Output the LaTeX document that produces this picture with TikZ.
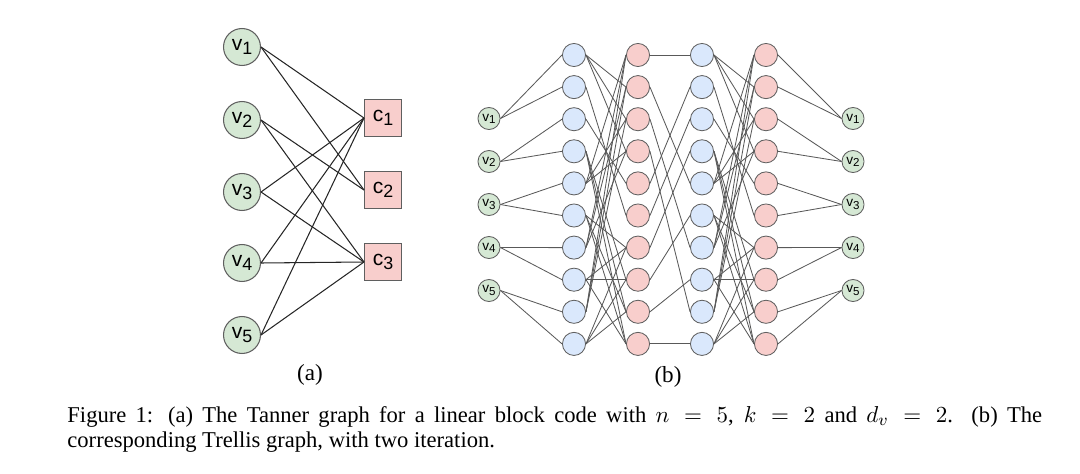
\documentclass[tikz,border=0pt]{standalone}
\usepackage{amsmath}
\usepackage{fontspec}
\setmainfont{Liberation Serif}
\newfontfamily\labfont{Liberation Sans}
\usepackage{tikz}

\definecolor{varfill}{HTML}{D5E8D4}
\definecolor{chkfill}{HTML}{F8CECC}
\definecolor{msgfill}{HTML}{DAE8FC}
\definecolor{rimgray}{HTML}{5F5F5F}
\newcommand{\sublab}[2]{#1\raisebox{-0.3ex}{\fontsize{8.5}{9}\selectfont #2}}
\newcommand{\smalllab}[2]{#1\raisebox{-0.3ex}{\fontsize{5.5}{6}\selectfont #2}}

\begin{document}
\begin{tikzpicture}[x=0.476pt, y=-0.476pt,
		var/.style = {draw=rimgray, fill=varfill, circle, minimum size=17.6pt, inner sep=0pt, line width=0.5pt, font=\labfont\fontsize{10}{12}\selectfont},
		chk/.style = {draw=rimgray, fill=chkfill, rectangle, minimum size=17.6pt, inner sep=0pt, line width=0.5pt, font=\labfont\fontsize{10}{12}\selectfont},
		svar/.style = {draw=rimgray, fill=varfill, circle, minimum size=10.5pt, inner sep=0pt, line width=0.4pt, font=\labfont\fontsize{6.5}{7}\selectfont},
		vcmsg/.style = {draw=rimgray, fill=msgfill, circle, minimum size=11pt, inner sep=0pt, line width=0.4pt},
		cvmsg/.style = {draw=rimgray, fill=chkfill, circle, minimum size=11pt, inner sep=0pt, line width=0.4pt},
		tan/.style = {draw=black!85, line width=0.5pt},
		trel/.style = {draw=black!65, line width=0.4pt}]
		\useasboundingbox (0,0) rectangle (1080,474);

		% (a) Tanner graph
		\node[var] (v1) at (242,47) {\sublab{v}{1}};
		\node[var] (v2) at (242,120) {\sublab{v}{2}};
		\node[var] (v3) at (242,192) {\sublab{v}{3}};
		\node[var] (v4) at (242,263) {\sublab{v}{4}};
		\node[var] (v5) at (242,335) {\sublab{v}{5}};
		\node[chk] (c1) at (383,118) {\sublab{c}{1}};
		\node[chk] (c2) at (383,190) {\sublab{c}{2}};
		\node[chk] (c3) at (383,262) {\sublab{c}{3}};

		\foreach \a/\b in {1/1,1/2,2/2,2/3,3/1,3/3,4/1,4/3,5/1,5/3}
			\draw[tan] (v\a.east) -- (c\b.west);

		% (b) Trellis graph
		\foreach \i in {1,...,10} {
			\pgfmathsetmacro\ypos{55+32.1*(\i-1)}
			\node[vcmsg] (bl\i) at (574,\ypos) {};
			\node[cvmsg] (rd\i) at (638,\ypos) {};
			\node[vcmsg] (blb\i) at (702,\ypos) {};
			\node[cvmsg] (rdb\i) at (766,\ypos) {};
		}
		\foreach \i in {1,...,5} {
			\pgfmathsetmacro\ypos{118.5+43*(\i-1)}
			\node[svar] (lv\i) at (489,\ypos) {\smalllab{v}{\i}};
			\node[svar] (rv\i) at (853,\ypos) {\smalllab{v}{\i}};
		}

		\foreach \i in {1,...,5} {
			\pgfmathtruncatemacro\j{2*\i-1}
			\pgfmathtruncatemacro\k{2*\i}
			\draw[trel] (lv\i.east) -- (bl\j.west);
			\draw[trel] (lv\i.east) -- (bl\k.west);
			\draw[trel] (rdb\j.east) -- (rv\i.west);
			\draw[trel] (rdb\k.east) -- (rv\i.west);
		}
		\foreach \a/\b in {1/2,1/3,1/4,2/6,3/5,4/8,4/9,4/10,5/1,5/3,5/4,6/7,6/9,6/10,7/1,7/2,7/4,8/7,8/8,8/10,9/1,9/2,9/3,10/7,10/8,10/9} {
			\draw[trel] (bl\a.east) -- (rd\b.west);
			\draw[trel] (blb\a.east) -- (rdb\b.west);
		}
		\foreach \a/\b in {1/1,2/5,3/7,4/9,5/2,6/3,7/4,8/6,9/8,10/10}
			\draw[trel] (rd\a.east) -- (blb\b.west);

		% sub captions and caption
		\node[font=\fontsize{11}{13}\selectfont] (capa) at (310,375) {(a)};
		\node[font=\fontsize{11}{13}\selectfont] (capb) at (668,377) {(b)};
		\node[anchor=base west, text width=464pt, align=justify, inner sep=0pt, font=\fontsize{10.75}{11.9}\selectfont] (cap) at (67,422)
			{Figure 1: (a) The Tanner graph for a linear block code with $n=5$, $k=2$ and $d_v=2$. (b) The\linebreak corresponding Trellis graph, with two iteration.};
	\end{tikzpicture}
\end{document}
